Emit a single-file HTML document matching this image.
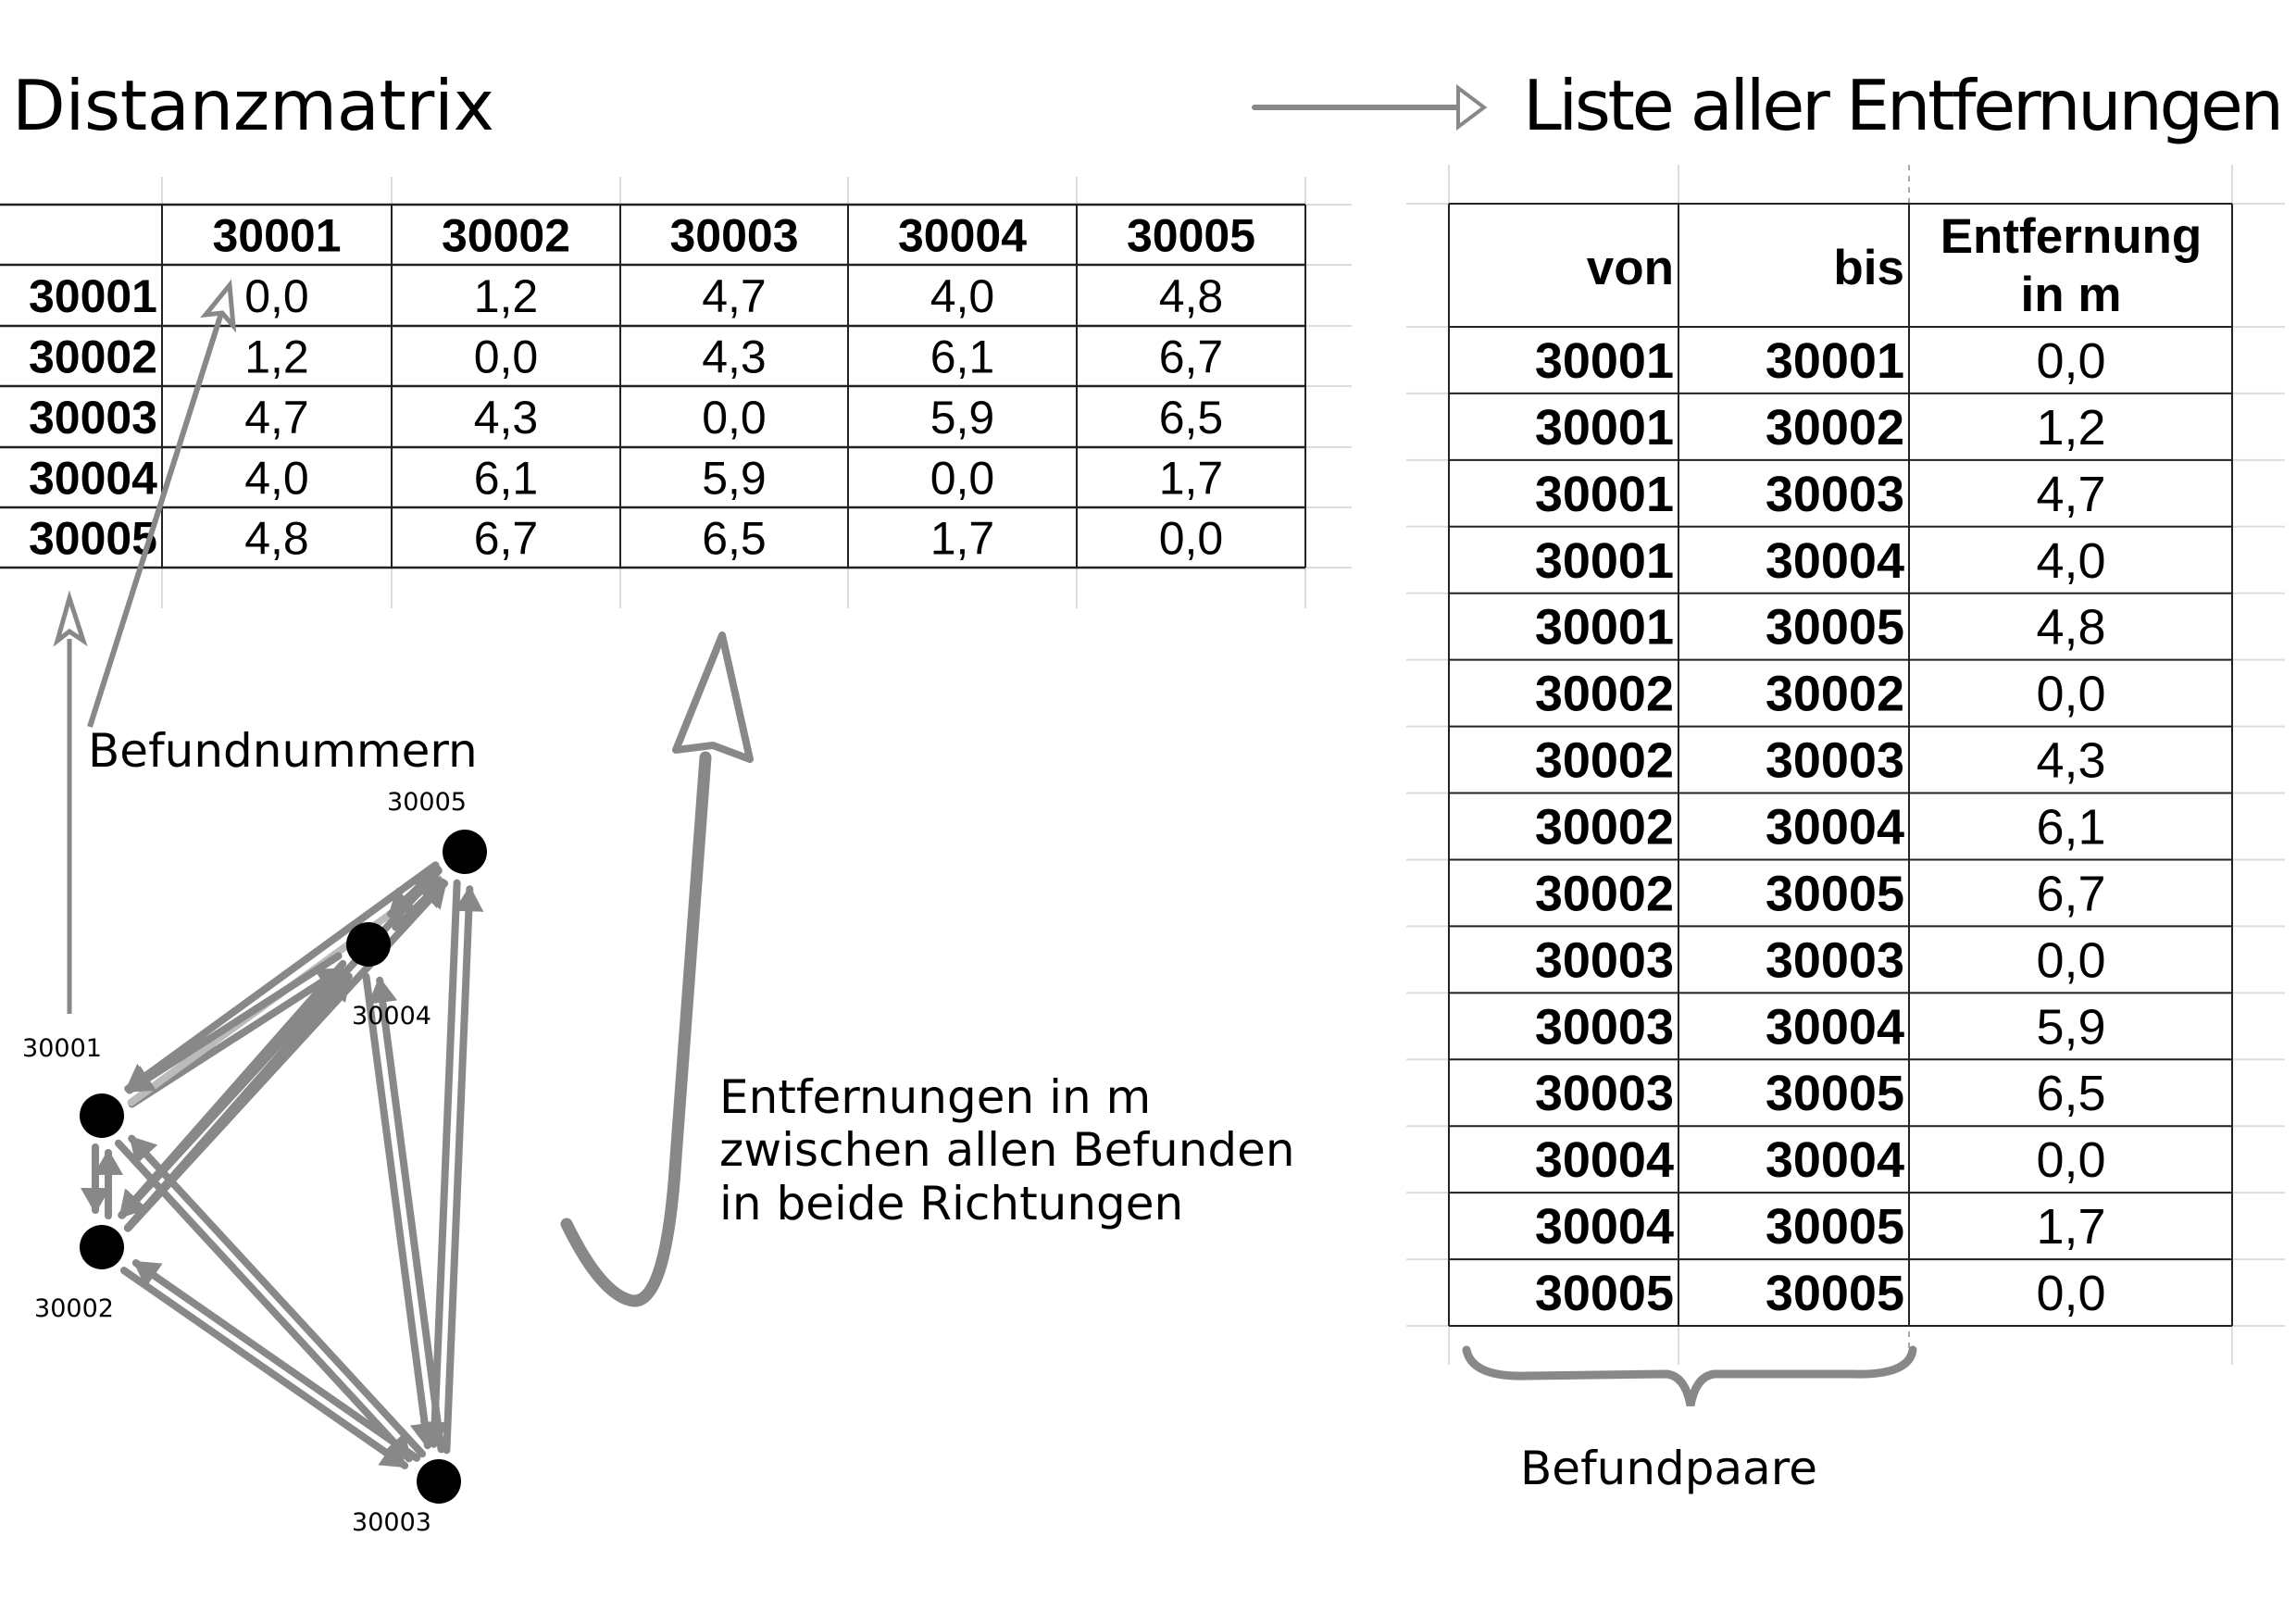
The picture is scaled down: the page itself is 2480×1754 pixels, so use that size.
<!DOCTYPE html>
<html><head><meta charset="utf-8"><style>
html,body{margin:0;padding:0;background:#fff;}
svg{display:block;}
text{font-family:"Liberation Sans",sans-serif;}
.dj,.dj text,text.dj{font-family:"DejaVu Sans","Liberation Sans",sans-serif;}
</style></head><body>
<svg id="root" width="2480" height="1754" viewBox="0 0 2480 1754" xmlns="http://www.w3.org/2000/svg">
<defs>
<marker id="ah" markerWidth="4" markerHeight="4" refX="3" refY="2" orient="auto" markerUnits="strokeWidth"><path d="M0,0 L3.5,2 L0,4 Z" fill="#888"/></marker>
</defs>
<text class="dj" x="13" y="140" font-size="75" textLength="521" fill="#000">Distanzmatrix</text>
<text class="dj" x="1645" y="140" font-size="75" textLength="822" fill="#000">Liste aller Entfernungen</text>
<g>
<line x1="1355" y1="116" x2="1575" y2="116" stroke="#888" stroke-width="6" stroke-linecap="round"/>
<path d="M1575,95 L1603,116 L1575,137 Z" fill="#fff" stroke="#888" stroke-width="4"/>
</g>
<g id="matrix"></g>
<g id="list"></g>
<g>
<path d="M1584,1458 Q1590,1488 1650,1486 L1800,1484 Q1820,1486 1826,1518 Q1832,1486 1852,1484 L2000,1484 Q2062,1486 2066,1458" fill="none" stroke="#888" stroke-width="9" stroke-linecap="round"/>
</g>
<text class="dj" x="1642" y="1603" font-size="50" fill="#000">Befundpaare</text>
<text class="dj" x="95" y="828" font-size="50" fill="#000">Befundnummern</text>
<g>
<line x1="75" y1="1095" x2="75" y2="690" stroke="#888" stroke-width="5"/>
<path d="M62,692 L75,646 L90,692 L75,682 Z" fill="#fff" stroke="#888" stroke-width="5"/>
<line x1="97" y1="785" x2="241" y2="332" stroke="#888" stroke-width="6"/>
<path d="M222,340 L248,308 L252,352 L240,338 Z" fill="#fff" stroke="#888" stroke-width="5"/>
</g>
<g>
<path d="M612,1322 Q650,1400 684,1405 Q720,1408 730,1250 L762,818" fill="none" stroke="#888" stroke-width="13" stroke-linecap="round"/>
<path d="M730,810 L780,686 L810,820 L770,805 Z" fill="#fff" stroke="#888" stroke-width="8" stroke-linejoin="round"/>
</g>
<g class="dj" font-size="50" fill="#000">
<text class="dj" x="777" y="1202">Entfernungen in m</text>
<text class="dj" x="777" y="1259">zwischen allen Befunden</text>
<text class="dj" x="777" y="1317">in beide Richtungen</text>
</g>
<g id="graph"></g>
</svg>
<script>
const ids = ["30001","30002","30003","30004","30005"];
const dist = [
 [0.0,1.2,4.7,4.0,4.8],
 [1.2,0.0,4.3,6.1,6.7],
 [4.7,4.3,0.0,5.9,6.5],
 [4.0,6.1,5.9,0.0,1.7],
 [4.8,6.7,6.5,1.7,0.0]
];
const NS="http://www.w3.org/2000/svg";
function mk(tag,attrs,parent){const e=document.createElementNS(NS,tag);for(const k in attrs)e.setAttribute(k,attrs[k]);parent.appendChild(e);return e;}
function fmt(v){return v.toFixed(1).replace('.',',');}

// Matrix
const M=document.getElementById('matrix');
const mx=[0,175,423,670,916,1163,1410];
const my=[221,286,352,417,483,548,613];
for(let i=1;i<mx.length;i++) mk('line',{x1:mx[i],y1:191,x2:mx[i],y2:657,stroke:'#ddd','stroke-width':2},M);
for(let j=0;j<my.length;j++) mk('line',{x1:0,y1:my[j],x2:1460,y2:my[j],stroke:'#ddd','stroke-width':2},M);
for(let i=1;i<mx.length;i++) mk('line',{x1:mx[i],y1:221,x2:mx[i],y2:613,stroke:'#222','stroke-width':2},M);
for(let j=0;j<my.length;j++) mk('line',{x1:0,y1:my[j],x2:1410,y2:my[j],stroke:'#222','stroke-width':2.5},M);
ids.forEach((id,c)=>{
  const t=mk('text',{x:(mx[c+1]+mx[c+2])/2,y:(my[0]+my[1])/2+18,'font-size':50,'font-weight':'bold','text-anchor':'middle'},M);
  t.textContent=id;
  
  
  const r=mk('text',{x:170,y:(my[c+1]+my[c+2])/2+18,'font-size':50,'font-weight':'bold','text-anchor':'end'},M);
  r.textContent=id;
  
  
  dist[c].forEach((v,k)=>{
    const d=mk('text',{x:(mx[k+1]+mx[k+2])/2,y:(my[c+1]+my[c+2])/2+18,'font-size':50,'text-anchor':'middle'},M);
    d.textContent=fmt(v);
    
    
  });
});

// List
const L=document.getElementById('list');
const lx=[1565,1813,2062,2411];
const ly=[220,353];
for(let k=0;k<15;k++) ly.push(353+(1432-353)*(k+1)/15);
[1565,1813,2411].forEach(x=>mk('line',{x1:x,y1:178,x2:x,y2:1474,stroke:'#ddd','stroke-width':2},L));
mk('line',{x1:2062,y1:178,x2:2062,y2:1474,stroke:'#aaa','stroke-width':2,'stroke-dasharray':'6 6'},L);
ly.forEach(y=>mk('line',{x1:1519,y1:y,x2:2468,y2:y,stroke:'#ddd','stroke-width':2},L));
lx.forEach(x=>mk('line',{x1:x,y1:220,x2:x,y2:1432,stroke:'#222','stroke-width':2},L));
ly.forEach(y=>mk('line',{x1:1565,y1:y,x2:2411,y2:y,stroke:'#222','stroke-width':2},L));
const hdr=[['von',1808,307,'end'],['bis',2057,307,'end'],['Entfernung',2237,273,'middle'],['in m',2237,336,'middle']];
hdr.forEach(h=>{const t=mk('text',{x:h[1],y:h[2],'font-size':53,'font-weight':'bold','text-anchor':h[3]},L);t.textContent=h[0];
  
  });
let row=0;
for(let i=0;i<5;i++)for(let j=i;j<5;j++){
  const cy=(ly[row+1]+ly[row+2])/2+19;
  const a=mk('text',{x:1808,y:cy,'font-size':54,'font-weight':'bold','text-anchor':'end'},L);a.textContent=ids[i];
  
  
  const b=mk('text',{x:2057,y:cy,'font-size':54,'font-weight':'bold','text-anchor':'end'},L);b.textContent=ids[j];
  
  
  const c=mk('text',{x:2237,y:cy,'font-size':54,'text-anchor':'middle'},L);c.textContent=fmt(dist[i][j]);
  
  
  row++;
}

// Graph
const G=document.getElementById('graph');
const nodes=[[110,1205],[110,1347],[474,1600],[398,1020],[502,920]];
const labels=[[67,1141],[80,1422],[423,1653],[423,1106],[461,875]];
for(let i=0;i<5;i++)for(let j=0;j<5;j++){ if(i===j)continue;
  const [x1,y1]=nodes[i],[x2,y2]=nodes[j];
  const dx=x2-x1,dy=y2-y1,len=Math.hypot(dx,dy),ux=dx/len,uy=dy/len;
  const px=-uy*7,py=ux*7;
  const light=(i===0&&j===4);
  const e=mk('line',{x1:x1+ux*34+px,y1:y1+uy*34+py,x2:x2-ux*40+px,y2:y2-uy*40+py,stroke:light?'#bbb':'#888','stroke-width':8,'stroke-linecap':'round','marker-end':'url(#ah)'},G);
  
  
}
nodes.forEach((n,k)=>{
  const c=mk('circle',{cx:n[0],cy:n[1],r:24,fill:'#000'},G);
  
  
  const t=mk('text',{x:labels[k][0],y:labels[k][1],'font-size':27,'text-anchor':'middle',class:'dj'},G);
  t.textContent=ids[k];
  
  
});
</script>
</body></html>
